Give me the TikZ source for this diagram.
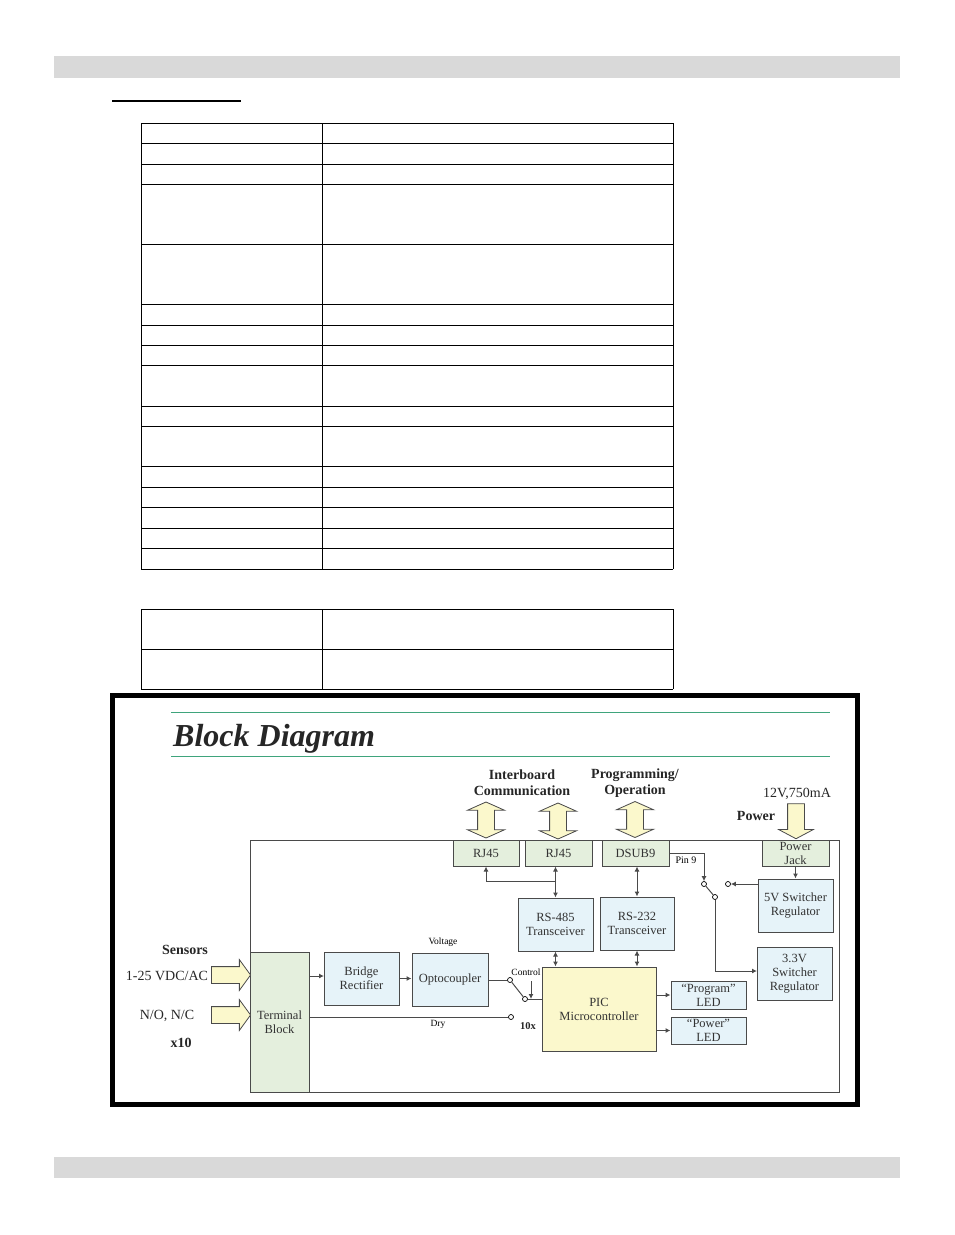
\documentclass[tikz,border=0pt]{standalone}
\usepackage{fontspec}
\setmainfont{Liberation Serif}
\usetikzlibrary{shapes.arrows,arrows.meta}
\definecolor{barcol}{HTML}{D9D9D9}
\definecolor{rulecol}{HTML}{3FA47C}
\definecolor{edgecol}{HTML}{4A4A4A}
\definecolor{bluecol}{HTML}{E6F3F9}
\definecolor{greencol}{HTML}{E4EFDD}
\definecolor{yellowcol}{HTML}{FBF8CC}
\tikzset{
  blockbox/.style={shape=rectangle,draw=edgecol,line width=1pt,inner sep=0pt,align=center,font=\fontsize{12.5}{14}\selectfont,text=black!80},
  bluebox/.style={blockbox,fill=bluecol},
  greenbox/.style={blockbox,fill=greencol},
  yellowbox/.style={blockbox,fill=yellowcol},
  contact/.style={shape=circle,draw=black,fill=white,line width=.7pt,inner sep=0pt,minimum size=5pt},
  inarrow/.style={shape=single arrow,draw=edgecol,fill=yellowcol,line width=.8pt,inner xsep=0pt,inner ysep=8pt,minimum height=39pt,single arrow head extend=7pt,single arrow head indent=0pt,single arrow tip angle=108},
  busarrow/.style={shape=double arrow,draw=edgecol,fill=yellowcol,line width=.8pt,rotate=90,inner xsep=0pt,inner ysep=8pt,minimum height=36pt,double arrow head extend=10pt,double arrow head indent=0pt,double arrow tip angle=132},
  boldlabel/.style={font=\fontsize{14}{16}\selectfont\bfseries,align=center,inner sep=0pt,text=black!85},
  plainlabel/.style={font=\fontsize{14}{15}\selectfont,inner sep=0pt,text=black!85},
  smalllabel/.style={font=\fontsize{9.5}{11}\selectfont,inner sep=0pt},
  wire/.style={edgecol,line width=1pt,>={Latex[length=5pt,width=5pt]}},
}
\begin{document}
\begin{tikzpicture}[x=1pt,y=-1pt]
\useasboundingbox (0,0) rectangle (954,1235);
% page bars
\fill[barcol] (54,56) rectangle (900,78);
\fill[barcol] (54,1157) rectangle (900,1178);
\fill[black] (112,100) rectangle (241,102);
% empty tables
\foreach \y in {123,143,164,184,244,304,325,345,365,406,426,466,487,507,528,548,569}
  \draw[line width=1pt] (141,\y) -- (673,\y);
\foreach \y in {609,649,689}
  \draw[line width=1pt] (141,\y) -- (673,\y);
\foreach \x in {141,322,673}{
  \draw[line width=1pt] (\x,123) -- (\x,569);
  \draw[line width=1pt] (\x,609) -- (\x,689);
}
% slide frame
\draw[line width=5pt] (112.5,695.5) rectangle (857.5,1104);
\draw[rulecol,line width=1pt] (171,712) -- (830,712);
\draw[rulecol,line width=1pt] (171,756) -- (830,756);
\node(title) at (173,739)[anchor=west,inner sep=0pt,font=\fontsize{32}{36}\selectfont\bfseries\itshape,text=black!85]{Block Diagram};
\node(board) at (544.5,966)[shape=rectangle,draw=edgecol,line width=1pt,minimum width=589pt,minimum height=252pt,inner sep=0pt]{};
% blocks
\node(term) at (279.5,1022)[greenbox,minimum width=59pt,minimum height=140pt]{Terminal\\Block};
\node(bridge) at (361.5,978.5)[bluebox,minimum width=75pt,minimum height=53pt]{Bridge\\Rectifier};
\node(opto) at (450,979.5)[bluebox,minimum width=76pt,minimum height=53pt]{Optocoupler};
\node(rja) at (486,853)[greenbox,minimum width=66pt,minimum height=26pt]{RJ45};
\node(rjb) at (558.5,853)[greenbox,minimum width=67pt,minimum height=26pt]{RJ45};
\node(dsub) at (635.5,853)[greenbox,minimum width=67pt,minimum height=26pt]{DSUB9};
\node(jack) at (795.5,853)[greenbox,minimum width=67pt,minimum height=26pt]{Power\\Jack};
\node(rsf) at (555.5,924.5)[bluebox,minimum width=75pt,minimum height=53pt]{RS-485\\Transceiver};
\node(rst) at (637,923.5)[bluebox,minimum width=74pt,minimum height=53pt]{RS-232\\Transceiver};
\node(regf) at (795.5,905.5)[bluebox,minimum width=75pt,minimum height=53pt]{5V Switcher\\Regulator};
\node(regt) at (794.5,973.5)[bluebox,minimum width=75pt,minimum height=53pt]{3.3V\\Switcher\\Regulator};
\node(pic) at (599,1009)[yellowbox,minimum width=114pt,minimum height=84pt]{PIC\\Microcontroller};
\node(prog) at (708.5,995)[bluebox,minimum width=75pt,minimum height=28pt]{``Program''\\LED};
\node(pwr) at (708.5,1030.5)[bluebox,minimum width=75pt,minimum height=27pt]{``Power''\\LED};
% block arrows
\node(insa) at (228,975)[inarrow]{};
\node(insb) at (228,1015)[inarrow]{};
\node(busa) at (486,820)[busarrow]{};
\node(busb) at (558,821)[busarrow]{};
\node(busc) at (635,819.5)[busarrow]{};
\node(inpw) at (796,819)[inarrow,rotate=-90,minimum height=35pt,single arrow head extend=9pt,single arrow tip angle=124]{};
% switch contacts
\node(ca) at (510,980)[contact]{};
\node(cb) at (525,999)[contact]{};
\node(cc) at (511,1017)[contact]{};
\node(cd) at (704,884)[contact]{};
\node(ce) at (715,897)[contact]{};
\node(cf) at (728,884)[contact]{};
\coordinate(tb) at (324,976);
\coordinate(ctl) at (531,981);
\coordinate(rin) at (757,971);
\coordinate(rjt) at (556,881);
% labels
\node(lia) at (522,783)[boldlabel]{Interboard\\Communication};
\node(lib) at (635,783.5)[boldlabel]{Programming/\\Operation};
\node(lv) at (797,793.5)[plainlabel]{12V,750mA};
\node(lp) at (756,815.5)[boldlabel]{Power};
\node(ls) at (185,950)[boldlabel]{Sensors};
\node(lr) at (167,975.5)[plainlabel]{1-25 VDC/AC};
\node(ln) at (167,1015.5)[plainlabel]{N/O, N/C};
\node(lx) at (181,1042.5)[boldlabel]{x10};
\node(lvo) at (443,942)[smalllabel]{Voltage};
\node(ldr) at (438,1024)[smalllabel]{Dry};
\node(lct) at (526,972)[smalllabel]{Control};
\node(lte) at (528,1026)[boldlabel,font=\fontsize{10.5}{12}\selectfont\bfseries]{10x};
\node(lpi) at (686,860)[smalllabel,font=\fontsize{10}{12}\selectfont]{Pin 9};
% connectors
\path [wire,->]
  (term.east |- tb) edge (tb)
  (bridge.east) edge (opto.west |- bridge.east)
  (pic.east |- prog.west) edge (prog.west)
  (pic.east |- pwr.west) edge (pwr.west)
  (jack.south) edge (jack.south |- regf.north)
  (regf.west |- cf) edge (cf)
  (ctl) edge (ctl |- cb);
\path [wire,<->]
  (rjb.south -| rsf.north) edge (rsf.north)
  (dsub.south -| rst.north) edge (rst.north)
  (rsf.south) edge (rsf.south |- pic.north)
  (rst.south) edge (rst.south |- pic.north);
\path [wire,-]
  (opto.east |- ca) edge (ca)
  (ca) edge (cb)
  (cb) edge (pic.west |- cb)
  (term.east |- cc) edge (cc)
  (cd) edge (ce);
\draw[wire,->] (rjt) -| (rja.south);
\draw[wire,->] (dsub.east) -| (cd.north);
\draw[wire,->] (ce.south) |- (rin);
\end{tikzpicture}
\end{document}
